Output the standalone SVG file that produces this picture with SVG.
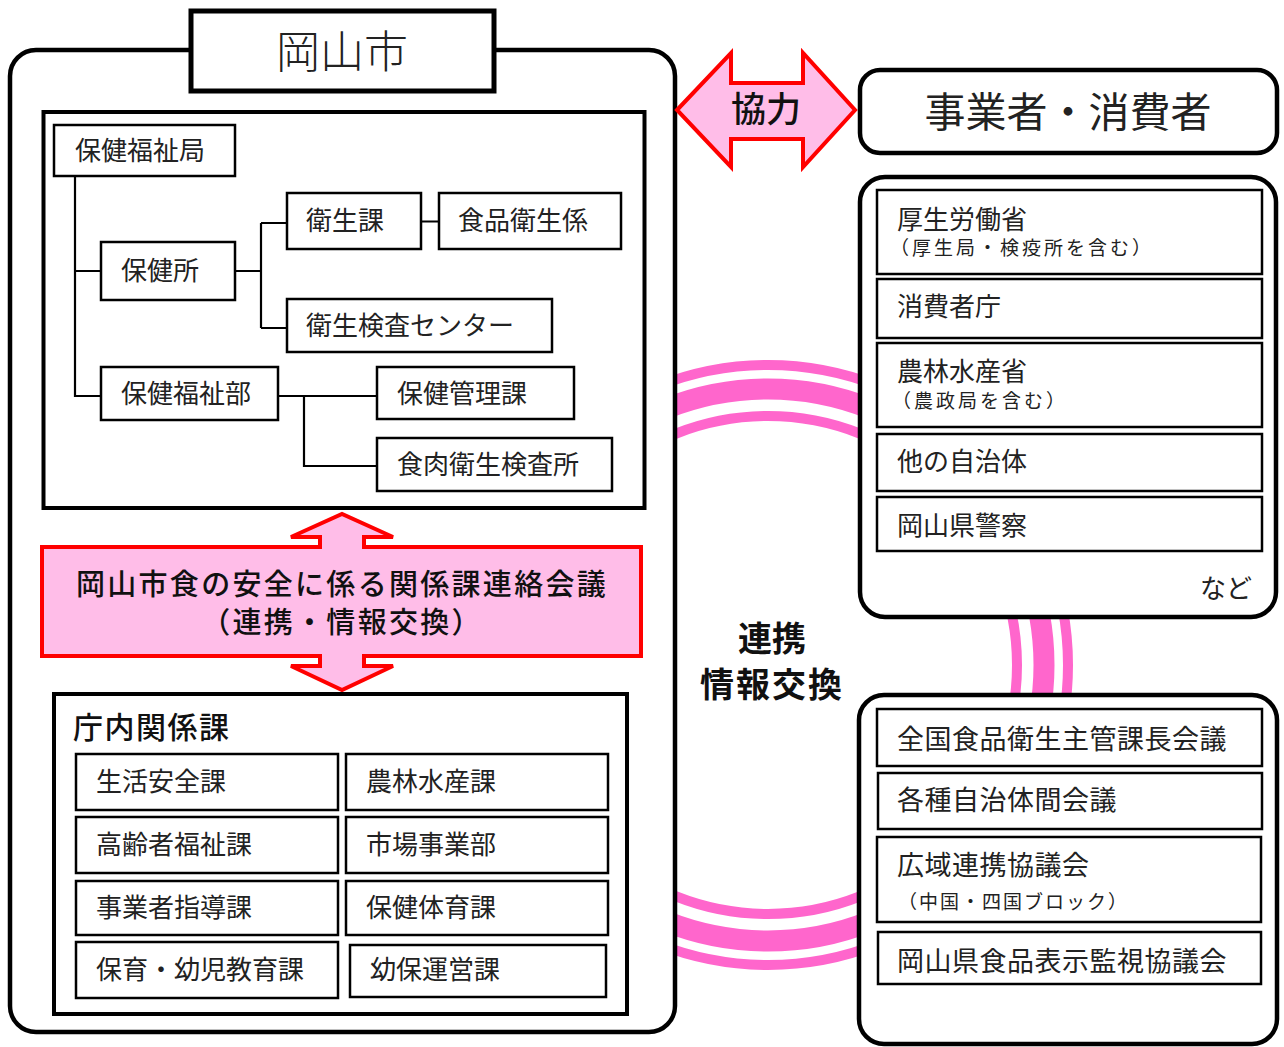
<svg xmlns="http://www.w3.org/2000/svg" width="1284" height="1047" viewBox="0 0 1284 1047">
<style>
.t{font-family:"Noto Sans CJK JP","Noto Sans CJK SC",sans-serif;fill:#222;font-size:26px}
.s{font-size:19px;letter-spacing:3px}
.b{font-weight:bold;fill:#111}
.m{font-weight:500;fill:#111}
.box{fill:#fff;stroke:#000;stroke-width:2.5}
.big{fill:#fff;stroke:#000;stroke-width:4.5}
.ln{fill:none;stroke:#000;stroke-width:2.2}
.ring{fill:none;stroke:#FF66CC}
.red{fill:#FFBDE8;stroke:#FF0000;stroke-width:4;stroke-linejoin:miter}
</style>
<rect width="1284" height="1047" fill="#fff"/>
<g id="ring">
<circle class="ring" cx="768" cy="665" r="300" stroke-width="10"/>
<circle class="ring" cx="768" cy="665" r="276" stroke-width="21"/>
<circle class="ring" cx="768" cy="665" r="249" stroke-width="10"/>
</g>
<g id="okayama-city">
<rect class="big" x="10" y="50" width="665" height="982" rx="26"/>
<rect class="big" x="191" y="11" width="303" height="80" style="stroke-width:5"/>
<text class="t" x="342" y="68" style="font-size:44px;font-weight:300" text-anchor="middle">岡山市</text>
</g>
<g id="health-org">
<rect class="big" x="43.5" y="112" width="601" height="396" style="stroke-width:4"/>
</g>
<g id="connectors">
<path class="ln" d="M75 176V396H101M75 271H101M235 271H261M261 223V328M261 223H287M261 328H287M421 221.5H439M278 396H377M304 396V466H377"/>
</g>
<g id="n-hokenfukushikyoku"><rect class="box" x="54" y="125" width="181" height="51"/><text class="t" x="75" y="160">保健福祉局</text></g>
<g id="n-hokenjo"><rect class="box" x="101" y="242" width="134" height="58"/><text class="t" x="121" y="280">保健所</text></g>
<g id="n-eiseika"><rect class="box" x="287" y="193" width="134" height="56"/><text class="t" x="306" y="230">衛生課</text></g>
<g id="n-shokuhineiseigakari"><rect class="box" x="439" y="193" width="182" height="56"/><text class="t" x="458" y="230">食品衛生係</text></g>
<g id="n-eiseikensa"><rect class="box" x="287" y="299" width="265" height="53"/><text class="t" x="306" y="335">衛生検査センター</text></g>
<g id="n-hokenfukushibu"><rect class="box" x="101" y="367" width="177" height="53"/><text class="t" x="121" y="403">保健福祉部</text></g>
<g id="n-hokenkanrika"><rect class="box" x="377" y="367" width="197" height="52"/><text class="t" x="397" y="403">保健管理課</text></g>
<g id="n-shokuniku"><rect class="box" x="377" y="438" width="235" height="53"/><text class="t" x="397" y="474">食肉衛生検査所</text></g>
<g id="n-meeting">
<path class="red" d="M42 547H320V537H291L342 514L393 537H364V547H641V656H364V666H393L342 690L291 666H320V656H42Z"/>
<text class="t m" x="342" y="595" style="font-size:29px;letter-spacing:2.3px" text-anchor="middle">岡山市食の安全に係る関係課連絡会議</text>
<text class="t m" x="342" y="633" style="font-size:29px;letter-spacing:2.3px" text-anchor="middle">（連携・情報交換）</text>
</g>
<g id="n-chonai">
<rect class="big" x="54" y="694" width="573" height="320" style="stroke-width:4"/>
<text class="t m" x="73" y="738" style="font-size:30px;letter-spacing:1.5px">庁内関係課</text>
<rect class="box" x="76" y="754" width="262" height="56"/><text class="t" x="96" y="791">生活安全課</text>
<rect class="box" x="346" y="754" width="262" height="56"/><text class="t" x="366" y="791">農林水産課</text>
<rect class="box" x="76" y="817" width="262" height="56"/><text class="t" x="96" y="854">高齢者福祉課</text>
<rect class="box" x="346" y="817" width="262" height="56"/><text class="t" x="366" y="854">市場事業部</text>
<rect class="box" x="76" y="881" width="262" height="54"/><text class="t" x="96" y="917">事業者指導課</text>
<rect class="box" x="346" y="881" width="262" height="54"/><text class="t" x="366" y="917">保健体育課</text>
<rect class="box" x="76" y="942" width="262" height="56"/><text class="t" x="96" y="979">保育・幼児教育課</text>
<rect class="box" x="350" y="945" width="256" height="52"/><text class="t" x="370" y="979">幼保運営課</text>
</g>
<g id="n-kyoryoku">
<path class="red" d="M677 110L731 53V83H803V53L855 110L803 167V139H731V167Z"/>
<text class="t m" x="766" y="122" style="font-size:35px" text-anchor="middle">協力</text>
</g>
<g id="n-jigyosha">
<rect class="big" x="860" y="70" width="417" height="83" rx="20"/>
<text class="t" x="1068" y="127" style="font-size:41px" text-anchor="middle">事業者・消費者</text>
</g>
<g id="n-renkei">
<text class="t b" x="772" y="651" style="font-size:34px" text-anchor="middle">連携</text>
<text class="t b" x="772" y="697" style="font-size:34px;letter-spacing:2px" text-anchor="middle">情報交換</text>
</g>
<g id="n-national">
<rect class="big" x="860" y="177" width="416" height="440" rx="25"/>
<rect class="box" x="877" y="190" width="385" height="84"/>
<text class="t" x="897" y="229">厚生労働省</text>
<text class="t s" x="890" y="255">（厚生局・検疫所を含む）</text>
<rect class="box" x="877" y="279" width="385" height="59"/><text class="t" x="897" y="316">消費者庁</text>
<rect class="box" x="877" y="343" width="385" height="84"/>
<text class="t" x="897" y="381">農林水産省</text>
<text class="t s" x="892" y="408">（農政局を含む）</text>
<rect class="box" x="877" y="434" width="385" height="57"/><text class="t" x="897" y="471">他の自治体</text>
<rect class="box" x="877" y="497" width="385" height="54"/><text class="t" x="897" y="535">岡山県警察</text>
<text class="t" x="1252" y="598" text-anchor="end">など</text>
</g>
<g id="n-councils">
<rect class="big" x="859" y="695" width="418" height="349" rx="25"/>
<rect class="box" x="877" y="709" width="385" height="57"/><text class="t" x="897" y="749" style="font-size:27px;letter-spacing:0.5px">全国食品衛生主管課長会議</text>
<rect class="box" x="878" y="773" width="384" height="56"/><text class="t" x="897" y="810" style="font-size:27px;letter-spacing:0.5px">各種自治体間会議</text>
<rect class="box" x="877" y="837" width="384" height="85"/>
<text class="t" x="897" y="875" style="font-size:27px;letter-spacing:0.5px">広域連携協議会</text>
<text class="t s" x="898" y="909" style="letter-spacing:2px">（中国・四国ブロック）</text>
<rect class="box" x="878" y="932" width="383" height="52"/><text class="t" x="897" y="971" style="font-size:27px;letter-spacing:0.5px">岡山県食品表示監視協議会</text>
</g>
</svg>
